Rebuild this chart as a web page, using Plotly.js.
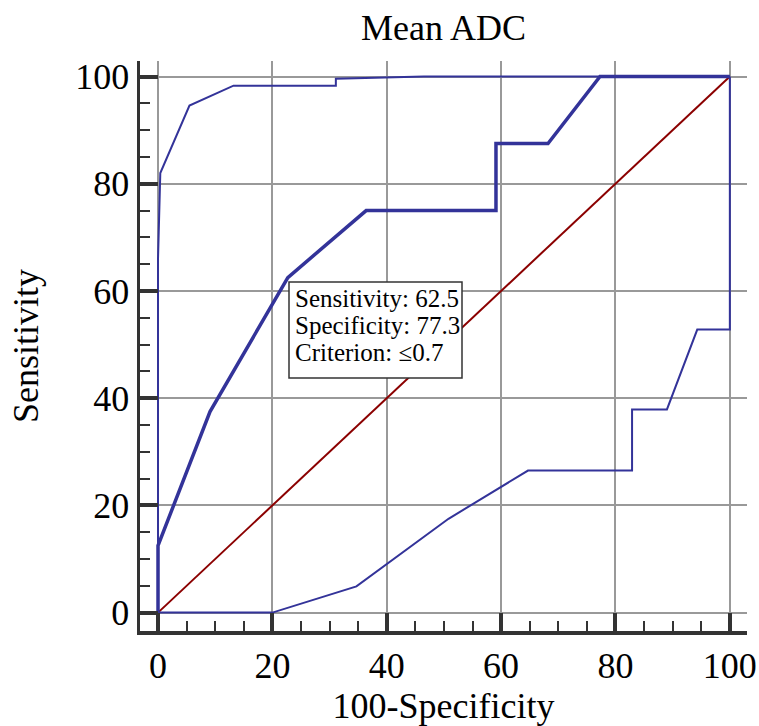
<!DOCTYPE html>
<html>
<head>
<meta charset="utf-8">
<script src="https://cdn.plot.ly/plotly-3.0.1.min.js"></script>
<style>html,body{margin:0;padding:0;background:#fff;}#chart{width:759px;height:726px;}</style>
</head>
<body>
<div id="chart"></div>
<script>
// ROC curve (100-Specificity, Sensitivity)
const rocX = [0, 0, 9.1, 22.7, 36.4, 59.1, 59.1, 68.2, 77.3, 100];
const rocY = [0, 12.5, 37.5, 62.5, 75, 75, 87.5, 87.5, 100, 100];
// Upper confidence bound
const upperX = [0, 0, 0.4, 5.5, 13.2, 31.1, 31.1, 46.5, 100];
const upperY = [0, 66, 82, 94.6, 98.3, 98.3, 99.6, 100, 100];
// Lower confidence bound
const lowerX = [0, 20, 34.7, 50.8, 64.7, 82.9, 82.9, 89.0, 94.3, 100, 100];
const lowerY = [0, 0, 4.9, 17.5, 26.5, 26.5, 37.9, 37.9, 52.8, 52.8, 100];
// Reference diagonal
const diagX = [0, 100];
const diagY = [0, 100];
// Criterion box text
const boxLines = ["Sensitivity: 62.5", "Specificity: 77.3", "Criterion: \u22640.7"];

const blue = '#333399';
const serif = 'Liberation Serif, Times New Roman, serif';

const traces = [
  {x: diagX, y: diagY, mode: 'lines', line: {color: '#8b0000', width: 2}, hoverinfo: 'skip'},
  {x: lowerX, y: lowerY, mode: 'lines', line: {color: blue, width: 2}, hoverinfo: 'skip'},
  {x: upperX, y: upperY, mode: 'lines', line: {color: blue, width: 2}, hoverinfo: 'skip'},
  {x: rocX, y: rocY, mode: 'lines', line: {color: blue, width: 3.5}, hoverinfo: 'skip'}
];

const axisCommon = {
  showline: true, linecolor: '#333', linewidth: 3.5,
  showgrid: true, gridcolor: '#999999', gridwidth: 2,
  zeroline: false,
  ticks: 'inside', ticklen: 18, tickwidth: 4, tickcolor: '#333',
  tick0: 0, dtick: 20,
  minor: {dtick: 5, ticks: 'inside', ticklen: 10, tickwidth: 2, tickcolor: '#333', showgrid: false},
  tickfont: {family: serif, size: 36, color: '#000'},
  fixedrange: true
};

// Box geometry (pixel layout of the criterion box inside the plot area)
const plotL = 140, plotT = 61, plotW = 759 - 140 - 12, plotH = 726 - 61 - 95;
const px = v => (v - plotL) / plotW;          // pixel x -> paper x
const py = v => 1 - (v - plotT) / plotH;      // pixel y -> paper y
const boxL = 289, boxR = 462, boxT = 282, boxB = 378;
const lineCenters = [298, 325, 352];

const annotations = boxLines.map((t, i) => ({
  xref: 'paper', yref: 'paper', x: px(boxL + 4), y: py(lineCenters[i]),
  xanchor: 'left', yanchor: 'middle', text: t, showarrow: false, align: 'left',
  font: {family: serif, size: 25, color: '#000'}
}));

const layout = {
  width: 759, height: 726,
  margin: {l: plotL, r: 12, t: plotT, b: 95},
  paper_bgcolor: '#fff', plot_bgcolor: '#fff',
  showlegend: false,
  title: {text: 'Mean ADC', font: {family: serif, size: 36, color: '#000'}, xref: 'paper', x: 0.5, xanchor: 'center', y: 0.962, yanchor: 'middle'},
  xaxis: Object.assign({}, axisCommon, {
    range: [-3.15, 103],
    title: {text: '100-Specificity', font: {family: serif, size: 36, color: '#000'}, standoff: 18}
  }),
  yaxis: Object.assign({}, axisCommon, {
    range: [-3.43, 102.9],
    title: {text: 'Sensitivity', font: {family: serif, size: 36, color: '#000'}, standoff: 26}
  }),
  shapes: [{
    type: 'rect', xref: 'paper', yref: 'paper',
    x0: px(boxL), x1: px(boxR), y0: py(boxB), y1: py(boxT),
    line: {color: '#333', width: 1.5}, fillcolor: '#fff', layer: 'above'
  }],
  annotations: annotations
};

Plotly.newPlot('chart', traces, layout, {staticPlot: true, displayModeBar: false});
</script>
</body>
</html>
